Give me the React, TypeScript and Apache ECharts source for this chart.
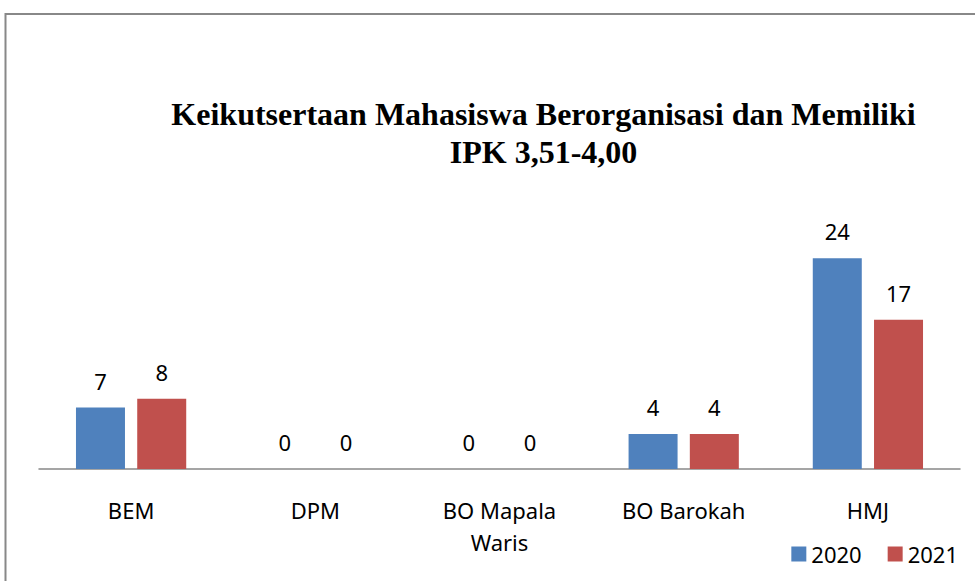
import React, { useEffect, useRef } from "react";
import * as echarts from "echarts";

const categories = ["BEM", "DPM", "BO Mapala\nWaris", "BO Barokah", "HMJ"];
const series2020 = [7, 0, 0, 4, 24];
const series2021 = [8, 0, 0, 4, 17];
const seriesNames = ["2020", "2021"];
const titleText = "Keikutsertaan Mahasiswa Berorganisasi dan Memiliki\nIPK 3,51-4,00";

export default function App() {
  const ref = useRef<HTMLDivElement>(null);
  useEffect(() => {
    document.body.style.margin = "0";
    const chart = echarts.init(ref.current!, undefined, { renderer: "svg" });
    const font = "Noto Sans, Open Sans, sans-serif";
    const labelStyle = {
      show: true,
      position: "top" as const,
      distance: 16,
      fontSize: 22,
      fontFamily: font,
      color: "#000",
    };
    chart.setOption({
      animation: false,
      backgroundColor: "#fff",
      title: {
        text: titleText,
        left: 538.5,
        top: 90,
        textAlign: "center",
        textStyle: {
          fontFamily: "Liberation Serif, serif",
          fontWeight: "bold",
          fontSize: 32,
          lineHeight: 38,
          color: "#000",
        },
      },
      graphic: [
        {
          type: "rect",
          shape: { x: 5.5, y: 14, width: 1000, height: 620 },
          style: { fill: "none", stroke: "#888", lineWidth: 2 },
          silent: true,
        },
      ],
      legend: {
        right: 12,
        top: 538,
        itemWidth: 15,
        itemHeight: 15,
        itemGap: 26,
        icon: "rect",
        textStyle: { fontSize: 22, fontFamily: font, color: "#000" },
        data: seriesNames,
      },
      grid: { left: 39, right: 15, top: 205.6, bottom: 112, containLabel: false },
      xAxis: {
        type: "category",
        data: categories,
        axisLine: { lineStyle: { color: "#888", width: 1.5 } },
        axisTick: { show: false },
        axisLabel: {
          fontSize: 22,
          fontFamily: font,
          color: "#000",
          margin: 25,
          lineHeight: 32,
          interval: 0,
        },
      },
      yAxis: {
        type: "value",
        min: 0,
        max: 30,
        show: false,
      },
      series: [
        {
          name: seriesNames[0],
          type: "bar",
          data: series2020,
          barWidth: 49,
          barGap: "25%",
          itemStyle: { color: "#4F81BD" },
          label: labelStyle,
        },
        {
          name: seriesNames[1],
          type: "bar",
          data: series2021,
          barWidth: 49,
          barGap: "25%",
          itemStyle: { color: "#C0504D" },
          label: labelStyle,
        },
      ],
    });
    return () => chart.dispose();
  }, []);
  return <div ref={ref} style={{ width: 975, height: 581 }} />;
}
